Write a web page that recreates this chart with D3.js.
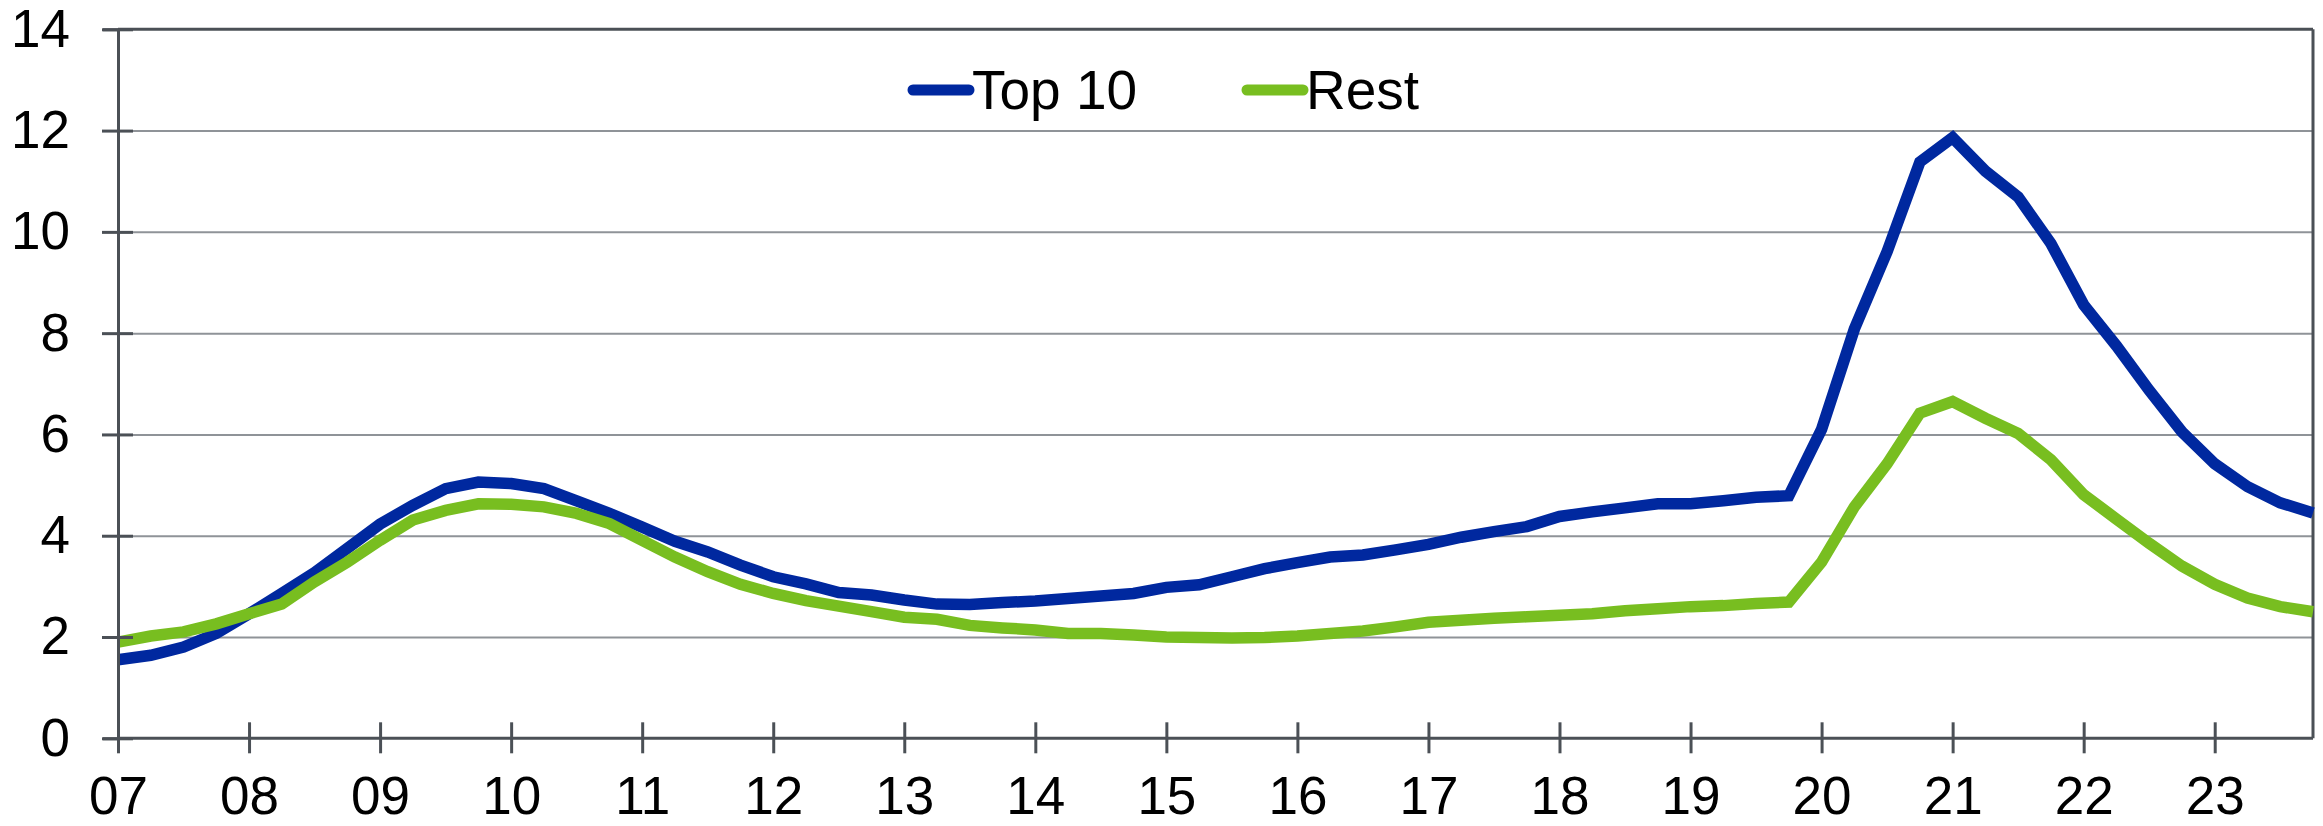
<!DOCTYPE html>
<html>
<head>
<meta charset="utf-8">
<script src="https://cdn.jsdelivr.net/npm/d3@7"></script>
<style>
  html, body { margin: 0; padding: 0; background: #fff; }
  svg { display: block; font-family: "Liberation Sans", Arial, sans-serif; }
</style>
</head>
<body>
<svg id="chart" width="2323" height="826"></svg>
<script>
// Quarterly observations, 2007 Q1 – 2023 Q4
const quarters = d3.range(2007, 2024).flatMap(y => [0, 0.25, 0.5, 0.75].map(q => y + q));

const top10 = [
  1.55, 1.64, 1.80, 2.07,
  2.46, 2.86, 3.27, 3.75,
  4.23, 4.60, 4.93, 5.06,
  5.03, 4.93, 4.69, 4.44,
  4.17, 3.89, 3.68, 3.42,
  3.19, 3.05, 2.88, 2.83,
  2.73, 2.65, 2.64, 2.68,
  2.71, 2.76, 2.81, 2.86,
  2.98, 3.03, 3.19, 3.35,
  3.47, 3.58, 3.62, 3.72,
  3.83, 3.97, 4.08, 4.18,
  4.38, 4.47, 4.55, 4.63,
  4.63, 4.69, 4.76, 4.79,
  6.10, 8.08, 9.61, 11.38,
  11.86, 11.20, 10.69, 9.77,
  8.56, 7.75, 6.87, 6.05,
  5.42, 4.97, 4.65, 4.45
];

const rest = [
  1.90, 2.02, 2.10, 2.26,
  2.46, 2.65, 3.09, 3.48,
  3.91, 4.31, 4.50, 4.63,
  4.62, 4.57, 4.44, 4.24,
  3.91, 3.58, 3.29, 3.04,
  2.86, 2.72, 2.61, 2.50,
  2.39, 2.35, 2.23, 2.18,
  2.14, 2.07, 2.07, 2.04,
  2.00, 1.99, 1.98, 1.99,
  2.02, 2.07, 2.12, 2.20,
  2.29, 2.33, 2.37, 2.40,
  2.43, 2.46, 2.52, 2.56,
  2.60, 2.62, 2.66, 2.69,
  3.48, 4.57, 5.42, 6.42,
  6.65, 6.32, 6.02, 5.50,
  4.81, 4.33, 3.85, 3.40,
  3.04, 2.77, 2.60, 2.50
];

const yearTicks = d3.range(2007, 2024);
const yearLabels = ["07","08","09","10","11","12","13","14","15","16","17","18","19","20","21","22","23"];
const yTicks = [0, 2, 4, 6, 8, 10, 12, 14];

const seriesNames = ["Top 10", "Rest"];
const seriesColors = ["#00289f", "#78be20"];

const svg = d3.select("#chart");
const plotLeft = 118, plotRight = 2313, plotTop = 29.3, plotBottom = 738.3;

const x = d3.scaleLinear().domain([2007, 2023.75]).range([plotLeft, plotRight]);
const y = d3.scaleLinear().domain([0, 14]).range([plotBottom, plotTop]);

const axisColor = "#4b5056";
const gridColor = "#8f9398";
const fontStack = "'Liberation Sans', Arial, sans-serif";

// horizontal gridlines
const grid = svg.append("g")
  .attr("transform", `translate(${plotLeft},0)`)
  .call(d3.axisLeft(y).tickValues([2, 4, 6, 8, 10, 12]).tickSize(-(plotRight - plotLeft)).tickFormat(""));
grid.select(".domain").remove();
grid.selectAll("line").attr("stroke", gridColor).attr("stroke-width", 2);

// frame: top and right borders
svg.append("line").attr("x1", plotLeft).attr("x2", plotRight).attr("y1", plotTop).attr("y2", plotTop)
  .attr("stroke", axisColor).attr("stroke-width", 3);
svg.append("line").attr("x1", plotRight).attr("x2", plotRight).attr("y1", plotTop).attr("y2", plotBottom)
  .attr("stroke", axisColor).attr("stroke-width", 3);

// series lines
const line = d3.line().x((d, i) => x(quarters[i])).y(d => y(d));
[top10, rest].forEach((vals, k) => {
  svg.append("path")
    .datum(vals)
    .attr("fill", "none")
    .attr("stroke", seriesColors[k])
    .attr("stroke-width", 11.5)
    .attr("stroke-linejoin", "miter")
    .attr("d", line);
});

// y axis
const yAxis = svg.append("g")
  .attr("transform", `translate(${plotLeft},0)`)
  .call(d3.axisLeft(y).tickValues(yTicks).tickSize(15).tickPadding(33).tickFormat(d3.format("d")));
yAxis.select(".domain").attr("stroke", axisColor).attr("stroke-width", 3);
yAxis.selectAll(".tick line").attr("x1", 15).attr("x2", -16).attr("stroke", axisColor).attr("stroke-width", 3);
yAxis.selectAll(".tick text").attr("font-size", 53).attr("fill", "#000")
  .attr("font-family", fontStack);

// x axis
const xAxis = svg.append("g")
  .attr("transform", `translate(0,${plotBottom})`)
  .call(d3.axisBottom(x).tickValues(yearTicks).tickSize(15).tickFormat((d, i) => yearLabels[i]));
xAxis.select(".domain").remove();
xAxis.append("line").attr("x1", plotLeft).attr("x2", plotRight).attr("y1", 0).attr("y2", 0)
  .attr("stroke", axisColor).attr("stroke-width", 3);
xAxis.selectAll(".tick line").attr("y1", -16).attr("y2", 15).attr("stroke", axisColor).attr("stroke-width", 3);
xAxis.selectAll(".tick text").attr("font-size", 53).attr("fill", "#000")
  .attr("dy", null).attr("y", 76)
  .attr("font-family", fontStack);

// legend
const legendX = [913, 1247];
const legend = svg.append("g");
seriesNames.forEach((name, k) => {
  const g = legend.append("g").attr("transform", `translate(${legendX[k]},90)`);
  g.append("line").attr("x1", 0).attr("x2", 56).attr("y1", 0).attr("y2", 0)
    .attr("stroke", seriesColors[k]).attr("stroke-width", 11).attr("stroke-linecap", "round");
  g.append("text").attr("x", 59).attr("y", 19).attr("font-size", 55).attr("fill", "#000")
    .attr("font-family", fontStack).text(name);
});
</script>
</body>
</html>
